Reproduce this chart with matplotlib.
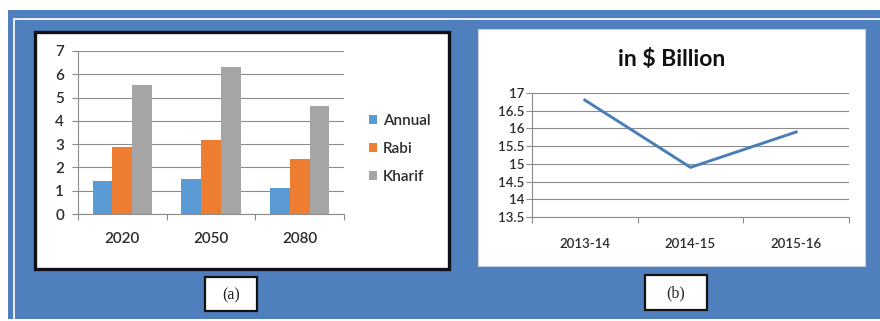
import matplotlib
matplotlib.use("Agg")
import matplotlib.pyplot as plt
from matplotlib.patches import Rectangle
import numpy as np

# ---- data ----
years = ["2020", "2050", "2080"]
annual = [1.4, 1.52, 1.12]
rabi = [2.87, 3.17, 2.37]
kharif = [5.55, 6.32, 4.62]
series_names = ["Annual", "Rabi", "Kharif"]
a_yticks = [0, 1, 2, 3, 4, 5, 6, 7]

periods = ["2013-14", "2014-15", "2015-16"]
billion = [16.8, 14.9, 15.9]
b_yticks = [13.5, 14, 14.5, 15, 15.5, 16, 16.5, 17]
b_ticklabels = ["13.5", "14", "14.5", "15", "15.5", "16", "16.5", "17"]
title_b = "in $ Billion"

W, H = 880, 321
fig = plt.figure(figsize=(W / 100, H / 100), dpi=100)
fig.patch.set_facecolor("white")

FONT = "Lato"
TXT = "#2c2c2c"
BLUE_BG = "#4F7FBD"


def frect(x0, y0, x1, y1, **kw):
    """rectangle in pixel coordinates (top-left origin)"""
    r = Rectangle((x0 / W, 1 - y1 / H), (x1 - x0) / W, (y1 - y0) / H,
                  transform=fig.transFigure, **kw)
    fig.patches.append(r)
    return r


def fax(x0, y0, x1, y1):
    ax = fig.add_axes([x0 / W, 1 - y1 / H, (x1 - x0) / W, (y1 - y0) / H])
    ax.set_zorder(5)
    return ax


# background frame
frect(8, 10, 880, 319, facecolor=BLUE_BG, edgecolor="none")
frect(13, 17.5, 880, 19.5, facecolor="#e8eef7", edgecolor="none")
frect(13, 17.5, 15, 319, facecolor="#e8eef7", edgecolor="none")

# panel (a) box
frect(34.5, 31.5, 448.5, 268.5, facecolor="white", edgecolor="#101018", linewidth=2.4)
# panel (b) box
frect(478, 29, 865, 266, facecolor="white", edgecolor="#c8d0dc", linewidth=0.8)

# caption boxes
frect(205, 277, 257, 311, facecolor="white", edgecolor="#111111", linewidth=1.6)
fig.text(231 / W, 1 - 295 / H, "(a)", ha="center", va="center",
         family="Liberation Serif", fontsize=11.5, color="#222222")
frect(645, 275, 707, 310, facecolor="white", edgecolor="#111111", linewidth=1.6)
fig.text(676 / W, 1 - 293 / H, "(b)", ha="center", va="center",
         family="Liberation Serif", fontsize=11.5, color="#222222")

GRID = "#8c8c8c"

# ---- chart (a) ----
axa = fax(78, 51, 344, 214)
x = np.arange(len(years))
bw = 0.222
colors = ["#5B9BD5", "#ED7D31", "#A5A5A5"]
for i, (vals, c, name) in enumerate(zip([annual, rabi, kharif], colors, series_names)):
    axa.bar(x + (i - 1) * bw, vals, width=bw, color=c, label=name, zorder=3)
axa.set_xlim(-0.5, len(years) - 0.5)
axa.set_ylim(0, 7)
axa.set_yticks(a_yticks)
axa.set_yticklabels([str(t) for t in a_yticks], family=FONT, fontsize=11,
                    fontweight="semibold", color=TXT)
axa.set_xticks(x)
axa.set_xticklabels(years, family=FONT, fontsize=11, fontweight="semibold", color=TXT)
axa.set_xticks(np.arange(len(years) + 1) - 0.5, minor=True)
axa.tick_params(axis="x", which="major", length=0, pad=13)
axa.tick_params(axis="x", which="minor", length=4, color=GRID, width=0.8)
axa.tick_params(axis="y", length=4, color=GRID, width=0.8, pad=6)
axa.grid(axis="y", color=GRID, linewidth=0.8, zorder=0)
for s in ["top", "right"]:
    axa.spines[s].set_visible(False)
for s in ["left", "bottom"]:
    axa.spines[s].set_color(GRID)
    axa.spines[s].set_linewidth(0.8)
axa.set_facecolor("none")
leg = axa.legend(loc="center left", bbox_to_anchor=((369 - 78) / 266, (214 - 149) / 163),
                 frameon=False, prop={"family": FONT, "size": 11, "weight": "semibold"},
                 handlelength=0.55, handleheight=0.55, handletextpad=0.35, labelspacing=0.9,
                 borderaxespad=0, borderpad=0)
for t in leg.get_texts():
    t.set_color(TXT)

# ---- chart (b) ----
axb = fax(532, 93, 849, 217)
xb = np.arange(len(periods))
axb.plot(xb, billion, color="#4A7EBB", linewidth=2.1, zorder=3)
axb.set_xlim(-0.5, len(periods) - 0.5)
axb.set_ylim(13.5, 17)
axb.set_yticks(b_yticks)
axb.set_yticklabels(b_ticklabels, family=FONT, fontsize=9.5, fontweight="semibold", color=TXT)
axb.set_xticks(xb)
axb.set_xticklabels(periods, family=FONT, fontsize=9.5, fontweight="semibold", color=TXT)
axb.set_xticks(np.arange(len(periods) + 1) - 0.5, minor=True)
axb.tick_params(axis="x", which="major", length=0, pad=15)
axb.tick_params(axis="x", which="minor", length=4, color=GRID, width=0.8)
axb.tick_params(axis="y", length=4, color=GRID, width=0.8, pad=1.5)
axb.grid(axis="y", color=GRID, linewidth=0.8, zorder=0)
for s in ["top", "right"]:
    axb.spines[s].set_visible(False)
for s in ["left", "bottom"]:
    axb.spines[s].set_color(GRID)
    axb.spines[s].set_linewidth(0.8)
axb.set_facecolor("none")
fig.text(672 / W, 1 - 59 / H, title_b, ha="center", va="center",
         family=FONT, fontsize=16.5, fontweight="bold", color="#111111")

fig.savefig("out.png", dpi=100, facecolor="white")
